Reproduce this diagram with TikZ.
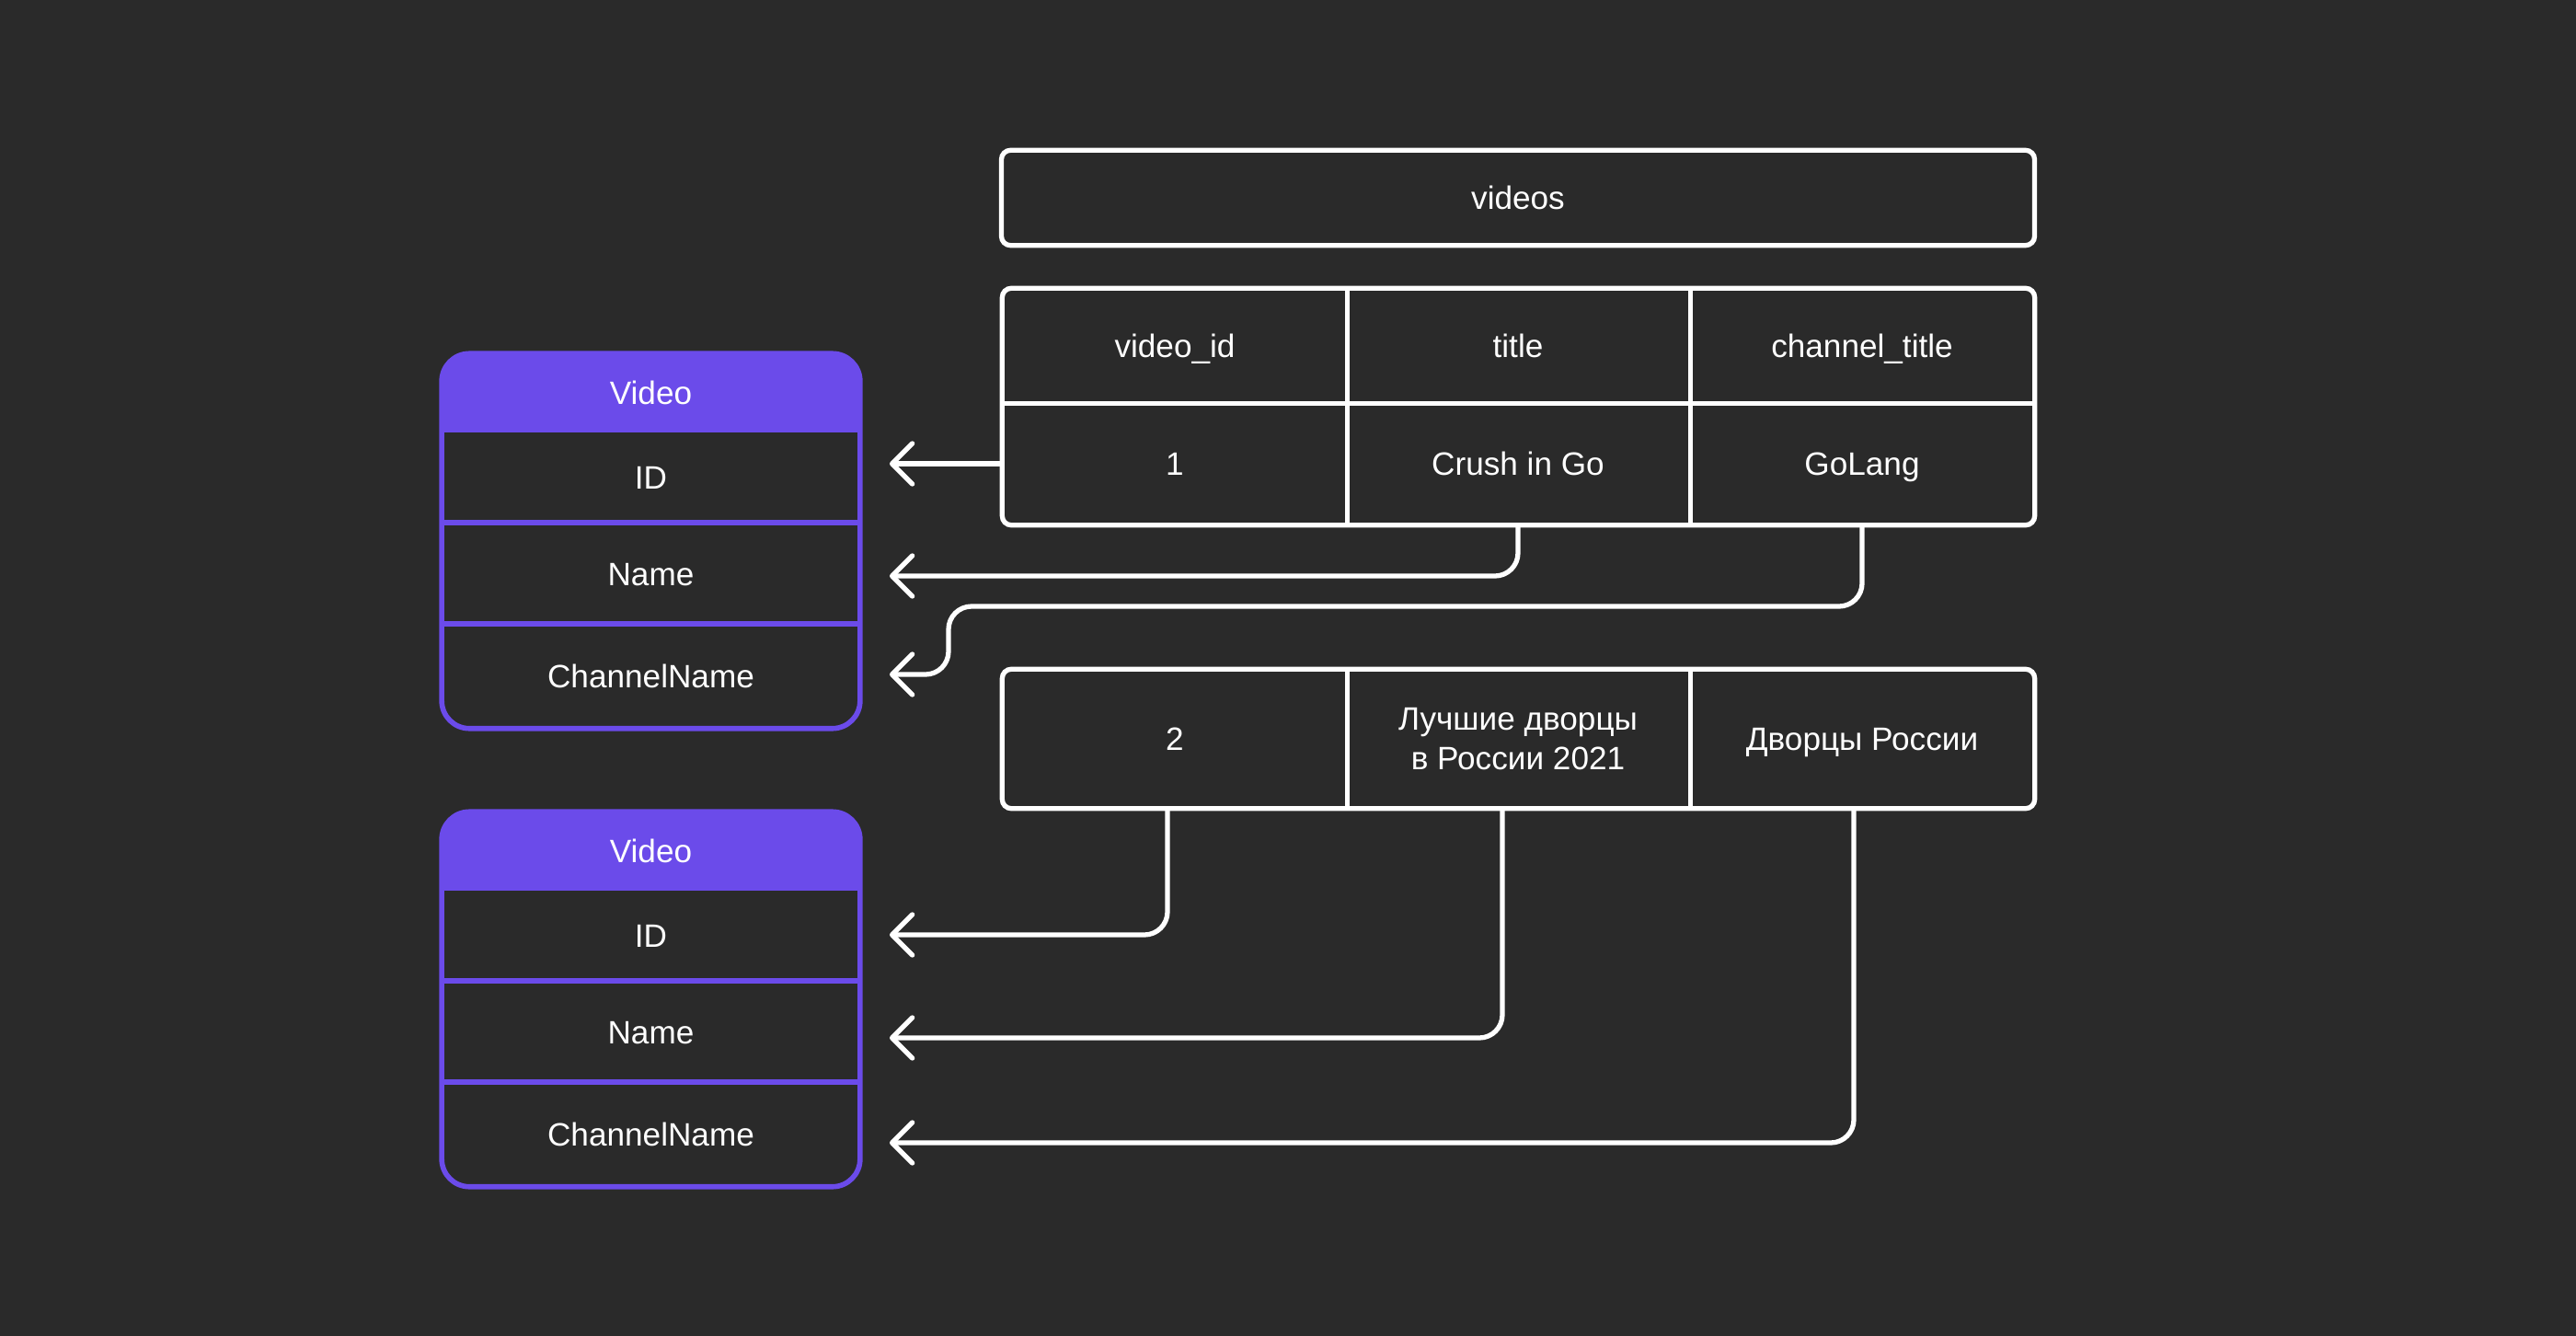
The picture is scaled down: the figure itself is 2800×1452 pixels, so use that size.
\documentclass[tikz,border=0pt]{standalone}
\usepackage{fontspec}
\setmainfont{Liberation Sans}
\usetikzlibrary{arrows.meta,calc,backgrounds}
\definecolor{bg}{HTML}{2A2A2A}
\definecolor{vpurple}{HTML}{6B4BEA}
\begin{document}
\begin{tikzpicture}[x=0.01cm, y=-0.01cm,
    txt/.style={text=white, font=\fontsize{10}{12.2}\selectfont, inner sep=0pt, align=center},
    oneline/.style={txt, text height=7.2pt, text depth=0pt},
    cell/.style={oneline, minimum width=3.737cm},
    vrow/.style={oneline, minimum width=4.53cm},
    tblframe/.style={draw=white, line width=1.5pt, rounded corners=0.1cm},
    divider/.style={white, line width=1.5pt},
    vline/.style={draw=vpurple, line width=1.6pt},
    link/.style={white, line width=1.5pt, rounded corners=0.25cm,
      -{Straight Barb[length=2.2mm,width=4.4mm,round]}}]
  \useasboundingbox (0,0) rectangle (2800,1452);
  % table videos
  \node[oneline, minimum width=11.21cm, minimum height=1.02cm] (videos) at (1650,215) {videos};
  \node[cell, minimum height=1.24cm] (vidh) at (1277,376) {video\_id};
  \node[cell, minimum height=1.24cm] (titleh) at (1650,376) {title};
  \node[cell, minimum height=1.24cm] (chanh) at (2024,376) {channel\_title};
  \node[cell, minimum height=1.32cm] (vid1) at (1277,504) {1};
  \node[cell, minimum height=1.32cm] (title1) at (1650,504) {Crush in Go};
  \node[cell, minimum height=1.32cm] (chan1) at (2024,504) {GoLang};
  \node[cell, minimum height=1.5cm] (vid2) at (1277,803) {2};
  \node[txt, minimum width=3.737cm, minimum height=1.5cm] (title2) at (1650,803) {Лучшие дворцы\\в России 2021};
  \node[cell, minimum height=1.5cm] (chan2) at (2024,803) {Дворцы России};
  \draw[tblframe] (videos.north west) rectangle (videos.south east);
  \draw[tblframe] (vidh.north west) rectangle (chan1.south east);
  \draw[divider] (vidh.south west) -- (chanh.south east);
  \draw[divider] (vidh.north east) -- (vid1.south east);
  \draw[divider] (titleh.north east) -- (title1.south east);
  \draw[tblframe] (vid2.north west) rectangle (chan2.south east);
  \draw[divider] (vid2.north east) -- (vid2.south east);
  \draw[divider] (title2.north east) -- (title2.south east);
  % struct Video
  \node[vrow, minimum height=0.83cm] (v1head) at (707.5,426.5) {Video};
  \node[vrow, minimum height=1.01cm] (v1id) at (707.5,518.5) {ID};
  \node[vrow, minimum height=1.10cm] (v1name) at (707.5,624) {Name};
  \node[vrow, minimum height=1.12cm] (v1chan) at (707.5,735) {ChannelName};
  \node[vrow, minimum height=0.83cm] (v2head) at (707.5,924.5) {Video};
  \node[vrow, minimum height=1.01cm] (v2id) at (707.5,1016.5) {ID};
  \node[vrow, minimum height=1.10cm] (v2name) at (707.5,1122) {Name};
  \node[vrow, minimum height=1.12cm] (v2chan) at (707.5,1233) {ChannelName};
  \begin{scope}[on background layer]
    \fill[bg] (0,0) rectangle (2800,1452);
    \fill[vpurple] (v1head.south west) [rounded corners=0.3cm] -- (v1head.north west)
      -- (v1head.north east) [sharp corners] -- (v1head.south east) -- cycle;
    \fill[vpurple] (v2head.south west) [rounded corners=0.3cm] -- (v2head.north west)
      -- (v2head.north east) [sharp corners] -- (v2head.south east) -- cycle;
  \end{scope}
  \draw[vline, rounded corners=0.3cm] (v1head.north west) rectangle (v1chan.south east);
  \draw[vline] (v1id.north west) -- (v1id.north east);
  \draw[vline] (v1name.north west) -- (v1name.north east);
  \draw[vline] (v1chan.north west) -- (v1chan.north east);
  \draw[vline, rounded corners=0.3cm] (v2head.north west) rectangle (v2chan.south east);
  \draw[vline] (v2id.north west) -- (v2id.north east);
  \draw[vline] (v2name.north west) -- (v2name.north east);
  \draw[vline] (v2chan.north west) -- (v2chan.north east);
  % arrows
  \coordinate (a1) at (967,504);
  \coordinate (a2) at (967,626);
  \coordinate (bend3) at (1031,659);
  \coordinate (a3) at (967,733);
  \coordinate (a4) at (967,1016);
  \coordinate (a5) at (967,1128);
  \coordinate (a6) at (967,1242);
  \draw[link] (vid1.west) -- (a1);
  \draw[link] (title1.south) |- (a2);
  \draw[link] (chan1.south) |- (bend3) |- (a3);
  \draw[link] ($(vid2.south)+(-8,0)$) |- (a4);
  \draw[link] ($(title2.south)+(-17,0)$) |- (a5);
  \draw[link] ($(chan2.south)+(-9,0)$) |- (a6);
\end{tikzpicture}
\end{document}
